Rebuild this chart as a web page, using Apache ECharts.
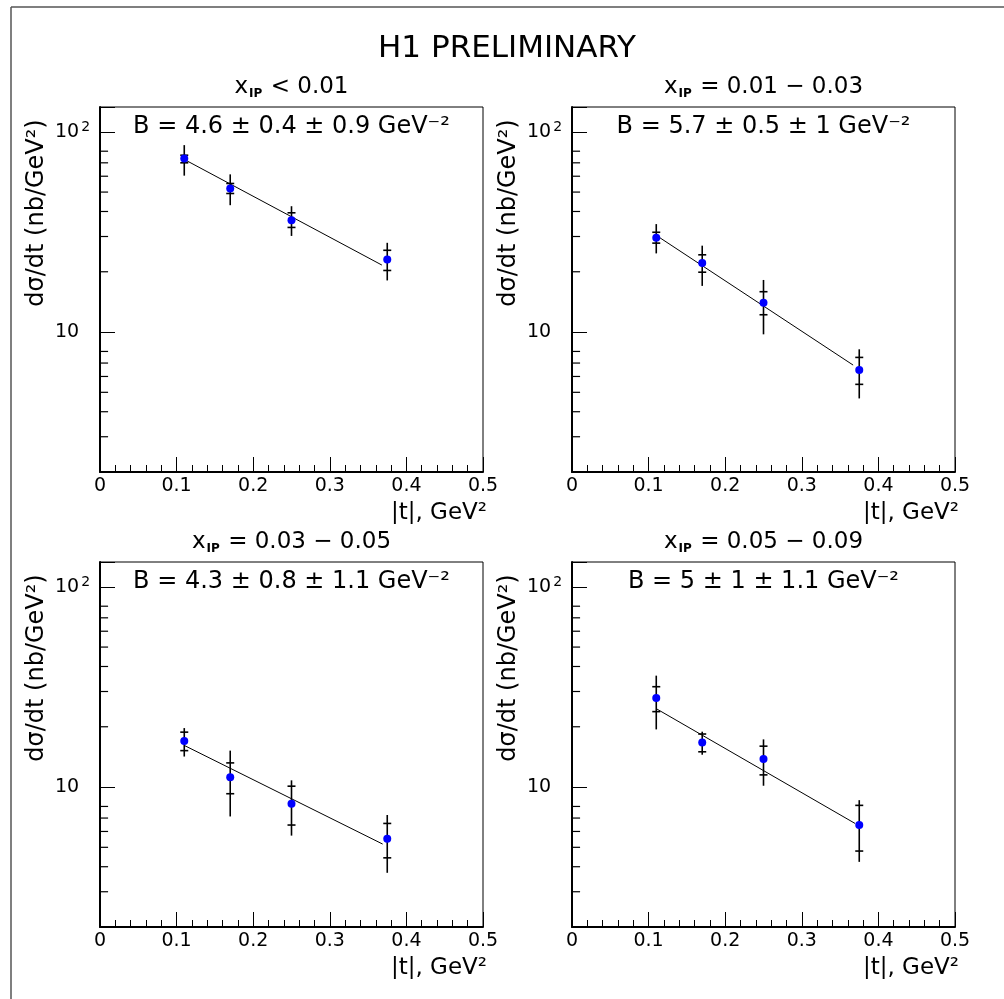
<!DOCTYPE html>
<html><head><meta charset="utf-8">
<script src="https://cdn.jsdelivr.net/npm/echarts@6/dist/echarts.min.js"></script>
<style>html,body{margin:0;padding:0;background:#fff}#c{width:1004px;height:999px}</style>
</head><body><div id="c"></div>
<script>
// ---------------- data ----------------
const mainTitle = 'H1 PRELIMINARY';
const xipRanges = ['< 0.01', '= 0.01 \u2212 0.03', '= 0.03 \u2212 0.05', '= 0.05 \u2212 0.09'];
const slopeLabels = [
  'B = 4.6 \u00b1 0.4 \u00b1 0.9 GeV\u207b\u00b2',
  'B = 5.7 \u00b1 0.5 \u00b1 1 GeV\u207b\u00b2',
  'B = 4.3 \u00b1 0.8 \u00b1 1.1 GeV\u207b\u00b2',
  'B = 5 \u00b1 1 \u00b1 1.1 GeV\u207b\u00b2'
];
const xAxisName = '|t|, GeV\u00b2';
const yAxisName = 'd\u03c3/dt (nb/GeV\u00b2)';
const yMajorLabels = {1: '{n|10}', 2: '{n|10}{s|2}'};   // log10(value) -> label
const yMinorTicks = [3, 4, 5, 6, 7, 8, 20, 30, 40, 50, 60, 70, 80];

const tValues = [0.11, 0.17, 0.25, 0.375];

// panel 1 : x_IP < 0.01
const sigma1   = [73.6, 52.1, 36.2, 23.0];
const totLo1   = [60.4, 43.0, 30.2, 18.1];
const totHi1   = [85.8, 61.3, 42.5, 27.9];
const statLo1  = [70.0, 49.2, 33.3, 20.3];
const statHi1  = [76.4, 55.2, 39.4, 25.6];
const fitT1    = [0.11, 0.368];
const fitS1    = [72.8, 21.6];
// panel 2 : 0.01 - 0.03
const sigma2   = [29.6, 22.1, 14.0, 6.46];
const totLo2   = [24.7, 17.0, 9.74, 4.66];
const totHi2   = [34.6, 27.0, 18.2, 8.2];
const statLo2  = [27.8, 19.9, 12.2, 5.48];
const statHi2  = [31.5, 24.3, 15.9, 7.47];
const fitT2    = [0.1105, 0.367];
const fitS2    = [30.3, 6.84];
// panel 3 : 0.03 - 0.05
const sigma3   = [17.0, 11.2, 8.25, 5.51];
const totLo3   = [14.2, 7.13, 5.72, 3.73];
const totHi3   = [19.7, 15.2, 10.8, 7.25];
const statLo3  = [15.2, 9.26, 6.46, 4.43];
const statHi3  = [18.8, 13.2, 10.1, 6.58];
const fitT3    = [0.1105, 0.369];
const fitS3    = [16.1, 5.19];
// panel 4 : 0.05 - 0.09
const sigma4   = [27.8, 16.7, 13.8, 6.46];
const totLo4   = [19.4, 14.5, 10.15, 4.23];
const totHi4   = [36.0, 18.9, 17.3, 8.6];
const statLo4  = [23.8, 15.0, 11.5, 4.79];
const statHi4  = [31.7, 18.4, 16.0, 8.1];
const fitT4    = [0.111, 0.3695];
const fitS4    = [24.5, 6.58];

// ---------------- layout / style ----------------
const panels = [
  {s: sigma1, lo: totLo1, hi: totHi1, sl: statLo1, sh: statHi1, ft: fitT1, fs: fitS1},
  {s: sigma2, lo: totLo2, hi: totHi2, sl: statLo2, sh: statHi2, ft: fitT2, fs: fitS2},
  {s: sigma3, lo: totLo3, hi: totHi3, sl: statLo3, sh: statHi3, ft: fitT3, fs: fitS3},
  {s: sigma4, lo: totLo4, hi: totHi4, sl: statLo4, sh: statHi4, ft: fitT4, fs: fitS4}
];
const gLeft = [100, 572, 100, 572];
const gTop = [107, 107, 562, 562];
const gW = 383, gH = 365;
const FONT = 'DejaVu Sans';

const grids = [], xAxes = [], yAxes = [], series = [], graphics = [];

function errRender(params, api) {
  const x = api.value(0);
  const top = api.coord([x, api.value(3)]);
  const bot = api.coord([x, api.value(2)]);
  const sHi = api.coord([x, api.value(5)]);
  const sLo = api.coord([x, api.value(4)]);
  const hw = 4;
  const st = {stroke: '#000', lineWidth: 1.6};
  return {type: 'group', children: [
    {type: 'line', shape: {x1: top[0], y1: top[1], x2: bot[0], y2: bot[1]}, style: st},
    {type: 'line', shape: {x1: sHi[0] - hw, y1: sHi[1], x2: sHi[0] + hw, y2: sHi[1]}, style: st},
    {type: 'line', shape: {x1: sLo[0] - hw, y1: sLo[1], x2: sLo[0] + hw, y2: sLo[1]}, style: st}
  ]};
}
function minorRender(params, api) {
  const p = api.coord([api.value(0), api.value(1)]);
  return {type: 'group', children: [
    {type: 'line', shape: {x1: p[0], y1: p[1], x2: p[0] + 8, y2: p[1]},
     style: {stroke: '#000', lineWidth: 1.2}}
  ]};
}

panels.forEach((P, i) => {
  grids.push({left: gLeft[i], top: gTop[i], width: gW, height: gH, show: true,
    borderColor: '#000', borderWidth: 1, backgroundColor: 'transparent',
    containLabel: false, outerBoundsMode: 'none'});
  xAxes.push({gridIndex: i, type: 'value', min: 0, max: 0.5, interval: 0.1,
    axisLine: {show: true, onZero: false, lineStyle: {color: '#000', width: 2}},
    axisTick: {show: true, inside: true, length: 15, lineStyle: {color: '#000', width: 1}},
    minorTick: {show: true, splitNumber: 5, length: 7, lineStyle: {color: '#000', width: 1}},
    splitLine: {show: false}, minorSplitLine: {show: false},
    axisLabel: {color: '#000', fontFamily: FONT, fontSize: 19, margin: 5,
      formatter: v => String(Math.round(v * 10) / 10)}
  });
  yAxes.push({gridIndex: i, type: 'log', logBase: 10, min: 2, max: 133,
    axisLine: {show: true, onZero: false, lineStyle: {color: '#000', width: 2}},
    axisTick: {show: true, inside: true, length: 15, lineStyle: {color: '#000', width: 1}},
    minorTick: {show: false}, splitLine: {show: false},
    axisLabel: {color: '#000', fontFamily: FONT, fontSize: 19, align: 'left', margin: 45,
      showMinLabel: true, showMaxLabel: true,
      rich: {
        n: {fontFamily: FONT, fontSize: 19, color: '#000', lineHeight: 22},
        s: {fontFamily: FONT, fontSize: 14, color: '#000', lineHeight: 22, verticalAlign: 'top', padding: [0, 0, 0, 2]}
      },
      formatter: v => {
        const l = Math.log10(v), r = Math.round(l);
        return (Math.abs(l - r) < 1e-6 && yMajorLabels[r]) ? yMajorLabels[r] : '';
      }}
  });
  series.push({type: 'line', xAxisIndex: i, yAxisIndex: i, silent: true, z: 2,
    data: P.ft.map((t, k) => [t, P.fs[k]]), symbol: 'none', animation: false,
    lineStyle: {color: '#000', width: 1}});
  series.push({type: 'custom', coordinateSystem: 'cartesian2d', xAxisIndex: i, yAxisIndex: i, silent: true, z: 3,
    renderItem: errRender, encode: {x: 0, y: [1, 2, 3, 4, 5]}, animation: false,
    data: tValues.map((t, k) => [t, P.s[k], P.lo[k], P.hi[k], P.sl[k], P.sh[k]])});
  series.push({type: 'custom', coordinateSystem: 'cartesian2d', xAxisIndex: i, yAxisIndex: i, silent: true, z: 5,
    renderItem: minorRender, clip: false, animation: false, encode: {x: 0, y: 1},
    data: yMinorTicks.map(v => [0.0001, v])});
  series.push({type: 'scatter', xAxisIndex: i, yAxisIndex: i, silent: true, z: 4,
    symbol: 'circle', symbolSize: 8, animation: false,
    itemStyle: {color: '#0000ff', opacity: 1},
    data: tValues.map((t, k) => [t, P.s[k]])});

  const cx = gLeft[i] + gW / 2;
  graphics.push({type: 'text', x: cx, y: gTop[i] - 20, style: {
    text: '{v|x}{s|IP}{v| ' + xipRanges[i] + '}', align: 'center', verticalAlign: 'middle',
    fill: '#000', font: '23px "' + FONT + '"',
    rich: {v: {fontFamily: FONT, fontSize: 23, fill: '#000', lineHeight: 26},
           s: {fontFamily: FONT, fontSize: 12, fontWeight: 'bold', fill: '#000', lineHeight: 26, verticalAlign: 'bottom', padding: [0, 1, 0, 1]}}
  }});
  graphics.push({type: 'text', x: cx, y: gTop[i] + 20, style: {
    text: slopeLabels[i], align: 'center', verticalAlign: 'middle', fill: '#000',
    fontFamily: FONT, fontSize: 24}});
  graphics.push({type: 'text', x: gLeft[i] - 63, y: gTop[i] + 106, rotation: Math.PI / 2, style: {
    text: yAxisName, align: 'center', verticalAlign: 'middle', fill: '#000',
    fontFamily: FONT, fontSize: 24}});
  graphics.push({type: 'text', x: gLeft[i] + gW + 4, y: gTop[i] + gH + 41, style: {
    text: xAxisName, align: 'right', verticalAlign: 'middle', fill: '#000',
    fontFamily: FONT, fontSize: 23}});
});

graphics.push({type: 'text', x: 507, y: 49, style: {text: mainTitle, align: 'center',
  verticalAlign: 'middle', fill: '#000', fontFamily: FONT, fontSize: 31}});
graphics.push({type: 'line', shape: {x1: 11, y1: 7, x2: 1004, y2: 7}, style: {stroke: '#555', lineWidth: 1.5}});
graphics.push({type: 'line', shape: {x1: 11, y1: 7, x2: 11, y2: 999}, style: {stroke: '#555', lineWidth: 1.5}});

const chart = echarts.init(document.getElementById('c'), null, {renderer: 'canvas'});
chart.setOption({
  animation: false,
  backgroundColor: '#fff',
  grid: grids, xAxis: xAxes, yAxis: yAxes, series: series, graphic: graphics
});
</script></body></html>
